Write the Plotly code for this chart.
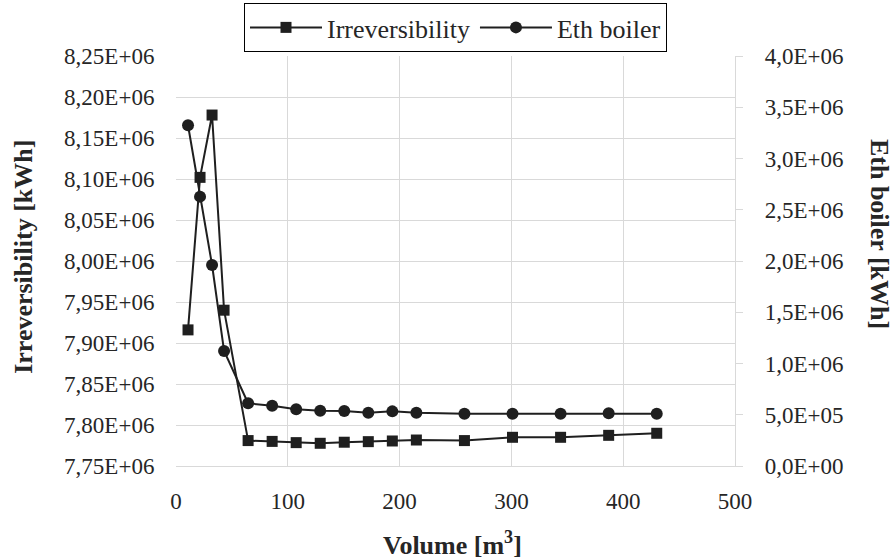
import plotly.graph_objects as go

volume = [10.75, 21.5, 32.25, 43, 64.5, 86, 107.5, 129, 150.5, 172, 193.5, 215, 258, 301, 344, 387, 430]
irreversibility = [7.916e6, 8.102e6, 8.178e6, 7.940e6, 7.781e6, 7.780e6, 7.7785e6, 7.7777e6, 7.779e6,
                   7.7797e6, 7.7805e6, 7.7817e6, 7.781e6, 7.785e6, 7.785e6, 7.7874e6, 7.7899e6]
eth_boiler = [3.324e6, 2.628e6, 1.961e6, 1.122e6, 0.612e6, 0.587e6, 0.553e6, 0.540e6, 0.537e6,
              0.520e6, 0.533e6, 0.520e6, 0.510e6, 0.510e6, 0.510e6, 0.514e6, 0.510e6]

left_tickvals = [7.75e6, 7.80e6, 7.85e6, 7.90e6, 7.95e6, 8.00e6, 8.05e6, 8.10e6, 8.15e6, 8.20e6, 8.25e6]
left_ticktext = ["7,75E+06", "7,80E+06", "7,85E+06", "7,90E+06", "7,95E+06", "8,00E+06",
                 "8,05E+06", "8,10E+06", "8,15E+06", "8,20E+06", "8,25E+06"]
right_tickvals = [0, 0.5e6, 1.0e6, 1.5e6, 2.0e6, 2.5e6, 3.0e6, 3.5e6, 4.0e6]
right_ticktext = ["0,0E+00", "5,0E+05", "1,0E+06", "1,5E+06", "2,0E+06", "2,5E+06",
                  "3,0E+06", "3,5E+06", "4,0E+06"]

INK = "#1f1f1f"
GRID = "#d9d9d9"
FONT = "Liberation Serif"
TXT = "#262626"
TICKFONT = dict(family=FONT, size=23, color=TXT)

fig = go.Figure()
fig.add_trace(go.Scatter(
    x=volume, y=irreversibility, name="Irreversibility", mode="lines+markers",
    line=dict(color=INK, width=2), marker=dict(symbol="square", size=11, color=INK),
    yaxis="y"))
fig.add_trace(go.Scatter(
    x=volume, y=eth_boiler, name="Eth boiler", mode="lines+markers",
    line=dict(color=INK, width=2), marker=dict(symbol="circle", size=12, color=INK),
    yaxis="y2"))

fig.update_layout(
    width=895, height=560,
    margin=dict(l=176, r=160, t=56, b=94, autoexpand=False),
    paper_bgcolor="white", plot_bgcolor="white",
    font=dict(family=FONT, size=23, color=TXT),
    showlegend=True,
    legend=dict(orientation="h", x=(244 - 176) / 559, xanchor="left", y=1.0098, yanchor="bottom",
                bordercolor="black", borderwidth=1, font=dict(size=26, family=FONT, color=TXT),
                bgcolor="white", itemwidth=72),
    xaxis=dict(range=[0, 500], tickvals=[0, 100, 200, 300, 400, 500], tickfont=TICKFONT,
               showgrid=True, gridcolor=GRID, gridwidth=1.3,
               showline=True, linecolor=GRID, linewidth=1.3,
               zeroline=False, ticks="outside", ticklen=14, tickcolor="rgba(0,0,0,0)"),
    yaxis=dict(range=[7.75e6, 8.25e6], tickvals=left_tickvals, ticktext=left_ticktext, tickfont=TICKFONT,
               showgrid=True, gridcolor=GRID, gridwidth=1.3, zeroline=False,
               showline=False, ticks="outside", ticklen=16, tickcolor="rgba(0,0,0,0)"),
    yaxis2=dict(range=[0, 4e6], tickvals=right_tickvals, ticktext=right_ticktext, tickfont=TICKFONT,
                overlaying="y", side="right", showgrid=False, zeroline=False,
                showline=True, linecolor=GRID, linewidth=1.3,
                ticks="outside", ticklen=7, tickcolor=GRID, tickwidth=1.3, ticklabelstandoff=17),
    annotations=[
        dict(text="<b>Irreversibility [kWh]</b>", xref="paper", yref="paper", x=-0.272, y=0.51,
             textangle=-90, showarrow=False, font=dict(size=26, family=FONT, color=TXT),
             xanchor="center", yanchor="middle"),
        dict(text="<b>Eth boiler [kWh]</b>", xref="paper", yref="paper", x=1.2576, y=0.566,
             textangle=90, showarrow=False, font=dict(size=26, family=FONT, color=TXT),
             xanchor="center", yanchor="middle"),
        dict(text="<b>Volume [m<sup>3</sup>]</b>", xref="paper", yref="paper", x=0.4946, y=-0.188,
             showarrow=False, font=dict(size=26, family=FONT, color=TXT),
             xanchor="center", yanchor="middle"),
    ],
)

fig.write_html("out.html")
